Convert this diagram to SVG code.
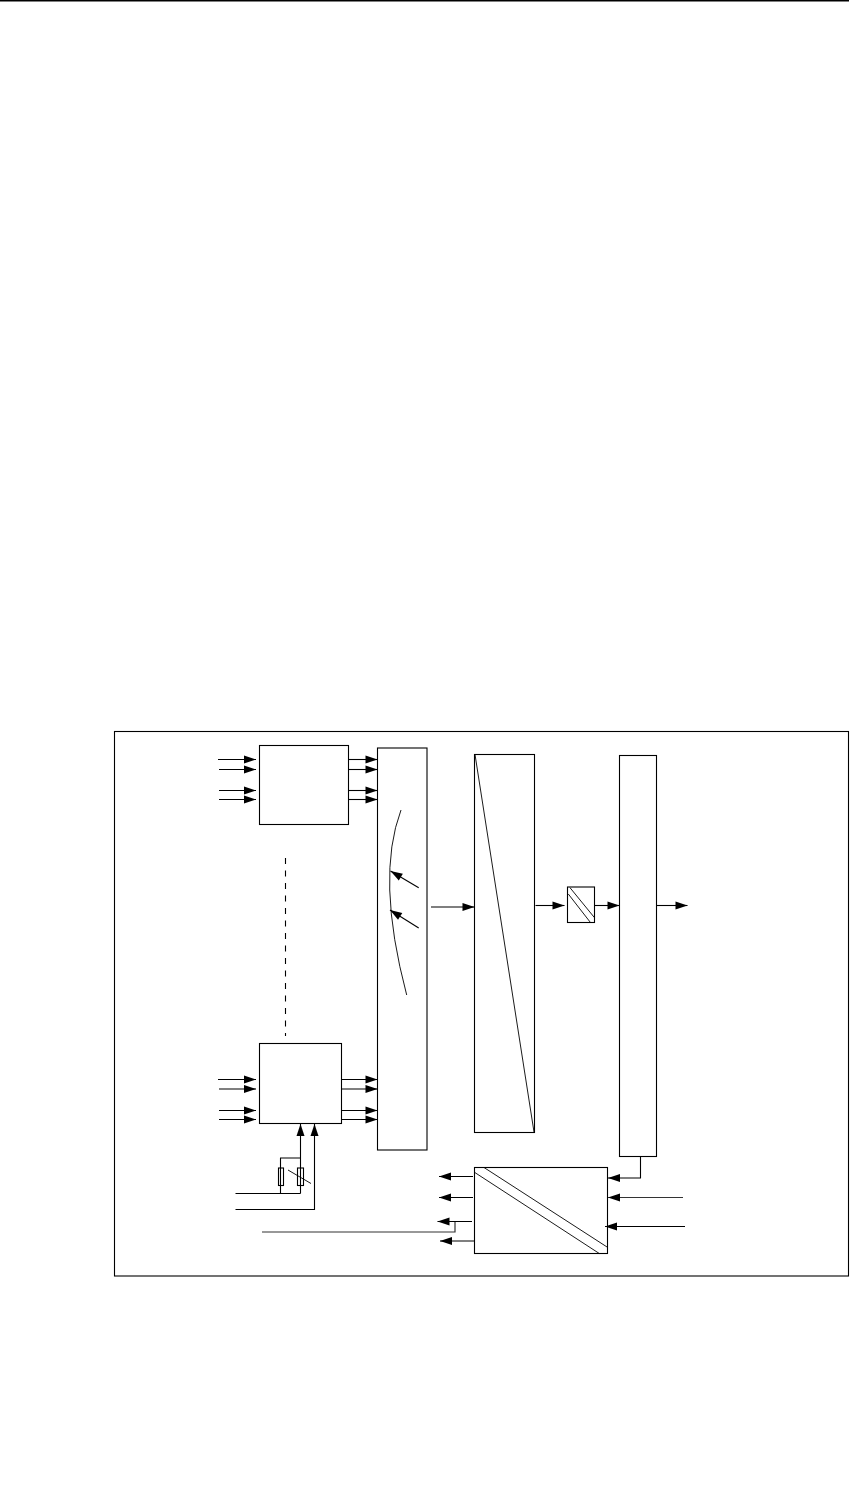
<svg xmlns="http://www.w3.org/2000/svg" width="851" height="1498" viewBox="0 0 851 1498">
<style>
.s{fill:#fff;stroke:#000;stroke-width:1.1}
.l{fill:none;stroke:#000;stroke-width:1.1}
.t{fill:none;stroke:#000;stroke-width:.9}
.g{fill:none;stroke:#333;stroke-width:1.2}
.top{fill:none;stroke:#000;stroke-width:1.5}
</style>
<defs>
<marker id="a" markerUnits="userSpaceOnUse" markerWidth="13" markerHeight="10" refX="12.5" refY="5" orient="auto"><path d="M.5 1L12.5 5L.5 9Z" fill="#000"/></marker>
</defs>
<rect width="851" height="1498" fill="#fff"/>
<path class="top" d="M0 .7H849"/>
<rect id="frame" class="s" x="114.5" y="731.5" width="734" height="544.5"/>
<g id="box-top"><rect class="s" x="259.5" y="745.5" width="89" height="79"/></g>
<g id="box-bottom"><rect class="s" x="259.5" y="1043.5" width="82" height="80"/></g>
<g id="bar-mux"><rect class="s" x="377.5" y="748" width="49.5" height="402"/>
<path class="t" d="M401 810Q375.6 877.5 406.7 995"/></g>
<g id="box-ramp"><rect class="s" x="474.5" y="754.5" width="60" height="378"/><path class="t" d="M475 754.5L534 1132"/></g>
<g id="box-conv-small"><rect class="s" x="567.5" y="887" width="27" height="35.5"/><path class="t" d="M570 887.7L594.5 917.7M568.3 894L590.3 922.3"/></g>
<g id="bar-out"><rect class="s" x="619.5" y="755.5" width="37" height="401"/></g>
<g id="box-power"><rect class="s" x="474.5" y="1167.5" width="133" height="86"/><path class="t" d="M474.5 1172.3L599.3 1253.5M484 1167.5L607.5 1247.3"/></g>
<g id="resistors"><rect class="s" x="278.5" y="1168" width="5" height="17.5"/><rect class="s" x="297.5" y="1168" width="6" height="17.5"/></g>
<g id="connectors">
<path class="l" marker-end="url(#a)" d="M218 759.5H256"/><path class="l" marker-end="url(#a)" d="M219 769.5H256"/><path class="l" marker-end="url(#a)" d="M219 790.5H256"/><path class="l" marker-end="url(#a)" d="M219 799.5H256"/>
<path class="l" marker-end="url(#a)" d="M349 759.5H377.5"/><path class="l" marker-end="url(#a)" d="M349 769.5H377.5"/><path class="l" marker-end="url(#a)" d="M349 790.5H377.5"/><path class="l" marker-end="url(#a)" d="M349 799.5H377.5"/>
<path class="l" marker-end="url(#a)" d="M218 1079.5H256"/><path class="l" marker-end="url(#a)" d="M219 1089H256"/><path class="l" marker-end="url(#a)" d="M219 1110.5H256"/><path class="l" marker-end="url(#a)" d="M219 1119.5H256"/>
<path class="l" marker-end="url(#a)" d="M342 1079.5H377.5"/><path class="l" marker-end="url(#a)" d="M342 1089H377.5"/><path class="l" marker-end="url(#a)" d="M342 1110.5H377.5"/><path class="l" marker-end="url(#a)" d="M342 1119.5H377.5"/>
<path class="l" marker-end="url(#a)" d="M418.7 887.7L390.5 871"/><path class="l" marker-end="url(#a)" d="M418.7 928L390 910"/>
<path class="l" marker-end="url(#a)" d="M431 907H474.5"/><path class="l" marker-end="url(#a)" d="M535.5 905.5H564.5"/><path class="l" marker-end="url(#a)" d="M595 905.5H619.5"/><path class="l" marker-end="url(#a)" d="M657 905.5H687.5"/>
<path class="l" marker-end="url(#a)" d="M300.5 1193.5V1124"/>
<path class="l" marker-end="url(#a)" d="M235.5 1209.5H314.5V1124"/>
<path class="l" marker-end="url(#a)" d="M473 1176.5H439"/><path class="l" marker-end="url(#a)" d="M473 1197.5H439"/><path class="l" marker-end="url(#a)" d="M472 1221.5H437.5"/><path class="l" marker-end="url(#a)" d="M474 1241H440"/>
<path class="l" marker-end="url(#a)" d="M640.5 1156.5V1178H608"/><path class="g" marker-end="url(#a)" d="M683 1197.5H608"/><path class="l" marker-end="url(#a)" d="M685 1226.5H605"/>
<path class="l" stroke-dasharray="6 6.5" d="M285.5 858V1036"/>
<path class="l" d="M235.5 1193.5H300.5M280.5 1193.5V1158H300.5"/>
<path class="t" d="M288 1170L311 1183.5"/>
<path class="g" d="M262 1232H455V1222"/>
</g>
</svg>
